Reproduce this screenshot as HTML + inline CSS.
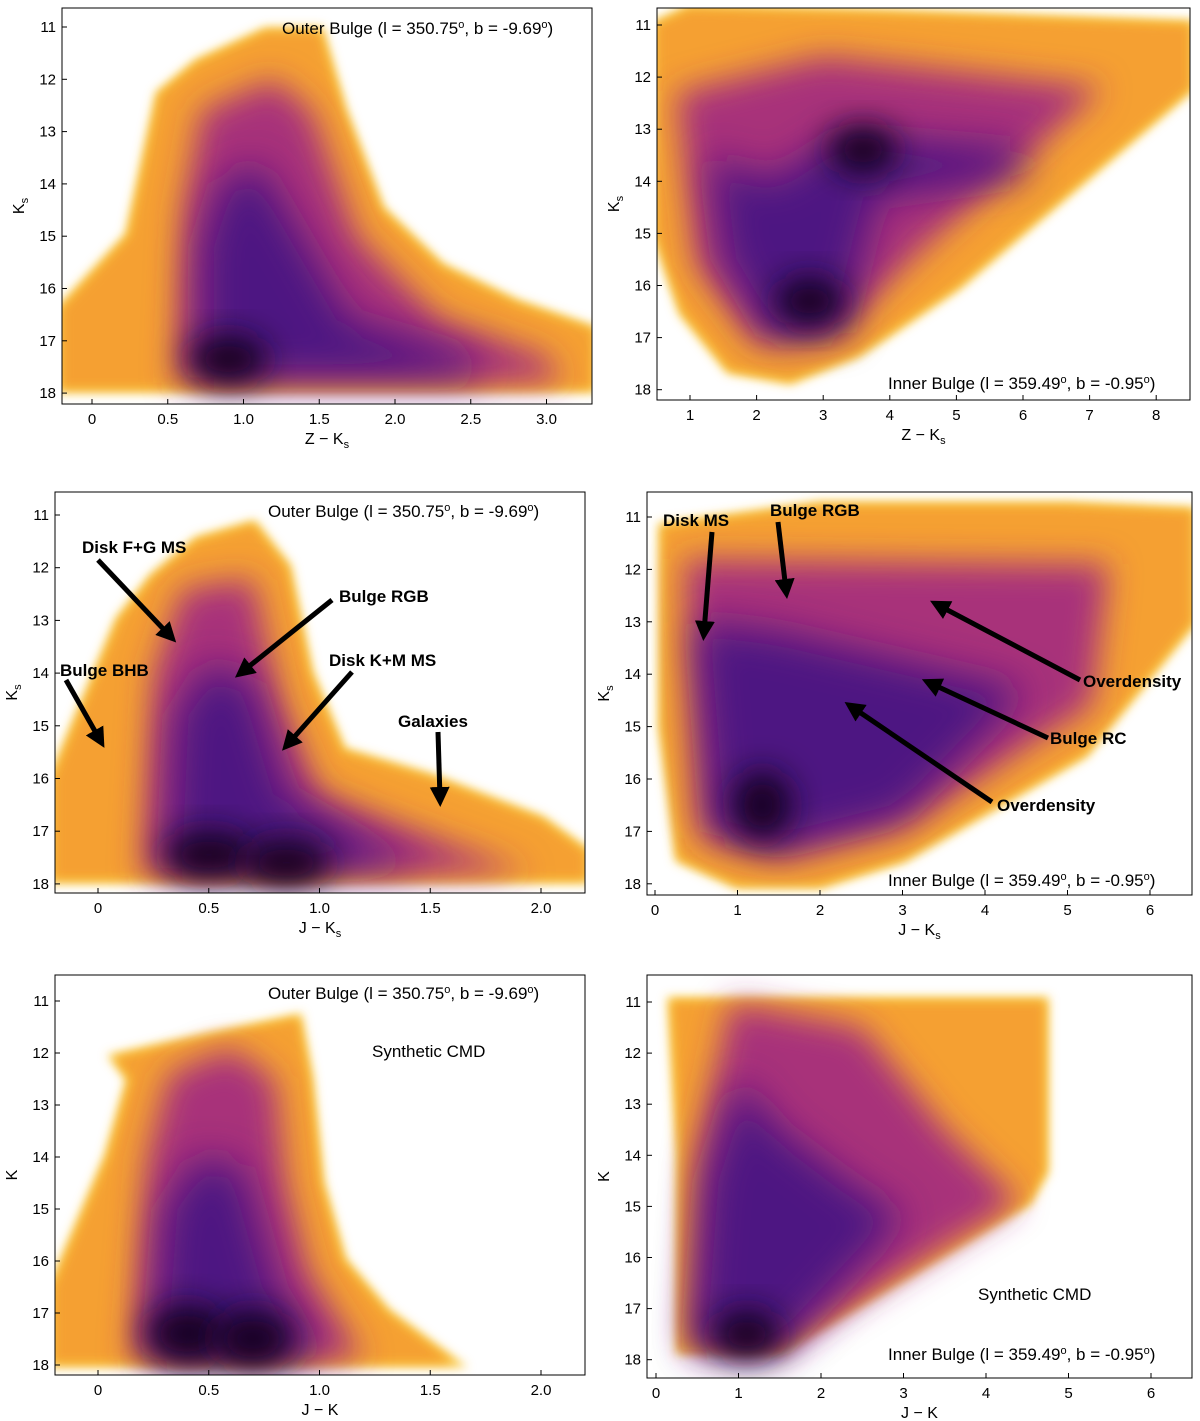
<!DOCTYPE html>
<html><head><meta charset="utf-8"><style>
body{margin:0;background:#fff;}
svg{display:block;font-family:"Liberation Sans",sans-serif;}
</style></head><body>
<svg id="fig" width="1200" height="1421" viewBox="0 0 1200 1421" xmlns="http://www.w3.org/2000/svg">
<defs>
<filter id="b1" x="-20%" y="-20%" width="140%" height="140%"><feGaussianBlur stdDeviation="5"/></filter>
<filter id="b2" x="-20%" y="-20%" width="140%" height="140%"><feGaussianBlur stdDeviation="16"/></filter>
<filter id="b4" x="-20%" y="-20%" width="140%" height="140%"><feGaussianBlur stdDeviation="20"/></filter>
<filter id="b3" x="-50%" y="-50%" width="200%" height="200%"><feGaussianBlur stdDeviation="16"/></filter>
<marker id="ah" markerWidth="4" markerHeight="4" refX="2.2" refY="2" orient="auto"><path d="M0,0 L4,2 L0,4 z" fill="#000"/></marker>
</defs>
</svg>
<script>
// ---- data (colour, magnitude) outlines per panel ----
const p1Outer=[[-0.2,17.9],[-0.2,16.4],[0.25,15],[0.45,12.3],[0.7,11.7],[1.15,11.1],[1.5,11.1],[1.65,12.6],[1.9,14.5],[2.3,15.6],[2.8,16.3],[3.3,16.8],[3.3,17.9]];
const p1Mid=[[0.55,17.8],[0.6,14.5],[0.72,12.6],[1.2,12.0],[1.45,12.6],[1.75,15],[2.3,16.6],[3.0,17.3],[3.1,17.8]];
const p1In=[[0.72,17.7],[0.72,15.2],[0.85,14.0],[1.1,13.6],[1.3,14.6],[1.7,16.6],[2.5,17.3],[2.6,17.7]];
const p1Core=[[0.9,17.35]];
const p2Outer=[[0.5,11.0],[1,10.7],[4,10.8],[8.5,11.0],[8.5,12.2],[5,16],[3.5,17.3],[2.5,17.8],[1.6,17.6],[0.9,16.5],[0.5,15]];
const p2Mid=[[0.8,12.3],[3,11.6],[7.2,12.2],[4.5,15.3],[3.2,16.9],[2,17.1],[1.1,15.6]];
const p2In=[[1.3,13.5],[2.2,14],[3.3,13.1],[6,13.4],[6,13.9],[3.8,14.3],[3.3,16.9],[2.2,17],[1.5,15.5]];
const p2Core=[[2.8,16.3],[3.6,13.4]];
const p3Outer=[[-0.2,17.9],[-0.2,16],[0.1,13],[0.25,12.2],[0.45,11.5],[0.7,11.2],[0.85,12],[0.95,14],[1.1,15.5],[1.5,16],[2.0,16.8],[2.2,17.4],[2.2,17.9]];
const p3Mid=[[0.2,17.85],[0.25,14],[0.38,12.4],[0.7,12.2],[0.82,14.5],[1.0,16.3],[1.5,17.1],[1.95,17.8]];
const p3In=[[0.32,17.7],[0.35,14.8],[0.5,13.8],[0.7,14.2],[0.85,16.3],[1.3,17.4],[1.5,17.7]];
const p3Core=[[0.5,17.45],[0.85,17.6]];
const p4Outer=[[0.1,11.2],[2,10.8],[5,10.8],[6.5,10.9],[6.5,13],[5.2,15.5],[3,17.5],[2,18],[1,18],[0.3,17.5],[0.1,15]];
const p4Mid=[[0.35,11.8],[5.5,11.9],[5.3,14.6],[3,16.9],[1.5,17.5],[0.55,17.1]];
const p4In=[[0.5,13],[1.5,13.2],[4.5,14.3],[3,16.7],[1.5,17.3],[0.7,17]];
const p4Core=[[1.3,16.5]];
const p5Outer=[[-0.2,17.95],[-0.2,16.5],[0.05,14],[0.15,12.5],[0.08,12.1],[0.5,11.7],[0.9,11.35],[0.95,12.5],[1.0,14.5],[1.1,16],[1.3,17],[1.6,17.95]];
const p5Mid=[[0.15,17.9],[0.22,14],[0.32,12.4],[0.6,11.9],[0.8,12.5],[0.85,14.5],[0.95,16.2],[1.2,17.9]];
const p5In=[[0.25,17.9],[0.3,15],[0.45,14],[0.65,14.2],[0.8,16.5],[1.0,17.9]];
const p5Core=[[0.4,17.4],[0.7,17.5]];
const p6Outer=[[0.3,17.8],[0.3,14],[0.2,11],[4.7,11],[4.7,14.3],[4.5,14.9],[1.5,17.8]];
const p6Mid=[[0.4,17.8],[0.5,14],[0.9,11],[2.5,11.5],[3.5,13.5],[4.4,14.9],[1.5,17.8]];
const p6In=[[0.45,17.8],[0.6,14.5],[1.0,12.5],[1.5,13.5],[2.4,14.6],[3,15.2],[1.5,17.8]];
const p6Core=[[1.1,17.5]];
const xTicks1=["0","0.5","1.0","1.5","2.0","2.5","3.0"],xTickV1=[0,0.5,1,1.5,2,2.5,3];
const xTicks2=[1,2,3,4,5,6,7,8];
const xTicks3=["0","0.5","1.0","1.5","2.0"],xTickV3=[0,0.5,1,1.5,2];
const xTicks4=[0,1,2,3,4,5,6];
const yTicks=[11,12,13,14,15,16,17,18];

const NS="http://www.w3.org/2000/svg";
const svg=document.getElementById('fig');
function mk(tag,at,parent){const e=document.createElementNS(NS,tag);for(const k in at)e.setAttribute(k,at[k]);(parent||svg).appendChild(e);return e;}

const panels=[
 {id:1,box:[62,8,592,404],x0:0,xp0:92,xs:151.5,yp11:27,ys:52.3,xt:xTickV1,xl:xTicks1,xlab:"Z − K",sub:"s",ylab:"K",ysub:"s",layers:[p1Outer,p1Mid,p1In],core:p1Core,coreR:[40,25]},
 {id:2,box:[657,8,1190,400],x0:1,xp0:690,xs:66.6,yp11:25,ys:52.1,xt:xTicks2,xl:xTicks2,xlab:"Z − K",sub:"s",ylab:"K",ysub:"s",layers:[p2Outer,p2Mid,p2In],core:p2Core,coreR:[35,25]},
 {id:3,box:[55,492,585,893],x0:0,xp0:98,xs:221.5,yp11:515,ys:52.7,xt:xTickV3,xl:xTicks3,xlab:"J − K",sub:"s",ylab:"K",ysub:"s",layers:[p3Outer,p3Mid,p3In],core:p3Core,coreR:[45,25]},
 {id:4,box:[647,492,1192,895],x0:0,xp0:655,xs:82.5,yp11:517,ys:52.4,xt:xTicks4,xl:xTicks4,xlab:"J − K",sub:"s",ylab:"K",ysub:"s",layers:[p4Outer,p4Mid,p4In],core:p4Core,coreR:[30,35]},
 {id:5,box:[55,975,585,1375],x0:0,xp0:98,xs:221.5,yp11:1001,ys:52,xt:xTickV3,xl:xTicks3,xlab:"J − K",sub:"",ylab:"K",ysub:"",layers:[p5Outer,p5Mid,p5In],core:p5Core,coreR:[40,30]},
 {id:6,box:[647,975,1192,1378],x0:0,xp0:656,xs:82.5,yp11:1002,ys:51.1,xt:xTicks4,xl:xTicks4,xlab:"J − K",sub:"",ylab:"K",ysub:"",layers:[p6Outer,p6Mid,p6In],core:p6Core,coreR:[35,25]}
];
const fills=["#f5a030","#a8327a","#4e1882"];
const filt=["b1","b2","b4"];
panels.forEach(p=>{
 const X=v=>p.xp0+(v-p.x0)*p.xs, Y=v=>p.yp11+(v-11)*p.ys;
 const [l,t,r,b]=p.box;
 const cp=mk('clipPath',{id:'c'+p.id},svg.querySelector('defs'));
 mk('rect',{x:l,y:t,width:r-l,height:b-t},cp);
 const g=mk('g',{'clip-path':'url(#c'+p.id+')'});
 
 
 const h=mk('polygon',{points:p.layers[0].map(d=>X(d[0])+','+Y(d[1])).join(' '),fill:"#f9c740",stroke:"#f9c740","stroke-width":10,filter:"url(#b1)"},g);
 
 
 p.layers.forEach((L,i)=>{
  const e=mk('polygon',{points:L.map(d=>X(d[0])+','+Y(d[1])).join(' '),fill:fills[i],filter:'url(#'+filt[i]+')'},g);
  
  
 });
 p.core.forEach(c=>{
  const e=mk('ellipse',{cx:X(c[0]),cy:Y(c[1]),rx:p.coreR[0],ry:p.coreR[1],fill:"#120620",filter:"url(#b3)"},g);
  
  
 });
 const fr=mk('rect',{x:l,y:t,width:r-l,height:b-t,fill:"none",stroke:"#000","stroke-width":1});
 
 
 p.xt.forEach((v,i)=>{
  mk('line',{x1:X(v),x2:X(v),y1:b,y2:b-5,stroke:"#000"});
  const tx=mk('text',{x:X(v),y:b+20,"text-anchor":"middle","font-size":15});tx.textContent=p.xl[i];
  
  
 });
 yTicks.forEach(v=>{
  mk('line',{x1:l,x2:l+5,y1:Y(v),y2:Y(v),stroke:"#000"});
  const tx=mk('text',{x:l-6,y:Y(v)+5,"text-anchor":"end","font-size":15});tx.textContent=v;
  
  
 });
 const xl=mk('text',{x:(l+r)/2,y:b+40,"text-anchor":"middle","font-size":16});
 xl.innerHTML=p.xlab+(p.sub?'<tspan font-size="11" dy="4">s</tspan>':'');
 
 
 const yl=mk('text',{transform:`translate(${l-38},${(t+b)/2}) rotate(-90)`,"text-anchor":"middle","font-size":16});
 yl.innerHTML=p.ylab+(p.ysub?'<tspan font-size="11" dy="4">s</tspan>':'');
 
 
});
function txt(x,y,s,size,w,name,anchor){const e=mk('text',{x:x,y:y,"font-size":size,"font-weight":w||"normal","text-anchor":anchor||"start"});e.innerHTML=s;
 
 return e;}
const outer='Outer Bulge (l = 350.75<tspan font-size="11" dy="-6">o</tspan><tspan dy="6">, b = -9.69</tspan><tspan font-size="11" dy="-6">o</tspan><tspan dy="6">)</tspan>';
const inner='Inner Bulge (l = 359.49<tspan font-size="11" dy="-6">o</tspan><tspan dy="6">, b = -0.95</tspan><tspan font-size="11" dy="-6">o</tspan><tspan dy="6">)</tspan>';
txt(282,34,outer,17,null,'field-label');
txt(888,389,inner,17,null,'field-label');
txt(268,517,outer,17,null,'field-label');
txt(888,886,inner,17,null,'field-label');
txt(268,999,outer,17,null,'field-label');
txt(888,1360,inner,17,null,'field-label');
txt(372,1057,'Synthetic CMD',17,null,'synthetic-label');
txt(978,1300,'Synthetic CMD',17,null,'synthetic-label');
const ann=[
 [82,553,'Disk F+G MS',98,560,170,636],
 [339,602,'Bulge RGB',332,600,242,672],
 [60,676,'Bulge BHB',66,680,100,740],
 [329,666,'Disk K+M MS',352,672,288,744],
 [398,727,'Galaxies',438,732,440,798],
 [663,526,'Disk MS',712,532,704,632],
 [770,516,'Bulge RGB',778,522,786,590],
 [1083,687,'Overdensity',1080,680,938,605],
 [1050,744,'Bulge RC',1048,738,930,683],
 [997,811,'Overdensity',992,802,852,707]
];
ann.forEach(a=>{
 txt(a[0],a[1],a[2],17,"bold",'annotation-label');
 const l=mk('line',{x1:a[3],y1:a[4],x2:a[5],y2:a[6],stroke:"#000","stroke-width":5,"marker-end":"url(#ah)"});
 
 
});
</script>
</body></html>
